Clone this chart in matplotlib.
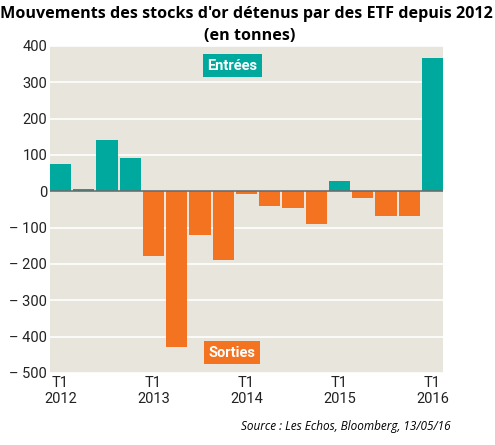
import numpy as np
import matplotlib.pyplot as plt

# Données (tonnes), trimestres T1 2012 -> T1 2016
trimestres = ["T1 2012", "T2 2012", "T3 2012", "T4 2012",
              "T1 2013", "T2 2013", "T3 2013", "T4 2013",
              "T1 2014", "T2 2014", "T3 2014", "T4 2014",
              "T1 2015", "T2 2015", "T3 2015", "T4 2015",
              "T1 2016"]
mouvements = [76, 5, 141, 91,
              -179, -430, -120, -190,
              -9, -40, -45, -90,
              27, -19, -69, -69,
              366]
tick_pos = [0, 4, 8, 12, 16]
tick_labels = ["T1\n2012", "T1\n2013", "T1\n2014", "T1\n2015", "T1\n2016"]
y_ticks = [400, 300, 200, 100, 0, -100, -200, -300, -400, -500]

vert = "#00A99D"
orange = "#F47321"
fond = "#E7E5DC"

fig = plt.figure(figsize=(4.95, 4.45), dpi=100)
ax = fig.add_axes([0.101, 0.162, 0.794, 0.735])
ax.set_facecolor(fond)

x = np.arange(len(mouvements))
couleurs = [vert if v >= 0 else orange for v in mouvements]
ax.bar(x, mouvements, width=0.91, color=couleurs, zorder=3)
ax.axhline(0, color="#6b6b6b", lw=1.2, zorder=4)

ax.set_xlim(-0.455, 16.455)
ax.set_ylim(-500, 400)
ax.set_yticks(y_ticks)
ax.set_yticklabels([f"\u2013 {-v}" if v < 0 else str(v) for v in y_ticks],
                   fontsize=10.5, family="Roboto", color="#222222")
ax.set_xticks(tick_pos)
ax.set_xticklabels(tick_labels, fontsize=10.5, family="Roboto", color="#222222",
                   linespacing=1.2)
ax.tick_params(length=0, pad=2)
ax.yaxis.grid(True, color="white", lw=1.2, zorder=1)
for s in ax.spines.values():
    s.set_visible(False)

# étiquettes
ax.text(7.38, 345, "Entrées", color="white", fontsize=10.5, fontweight="bold",
        family="Roboto", ha="center", va="center", zorder=5,
        bbox=dict(boxstyle="square,pad=0.3", fc=vert, ec="none"))
ax.text(7.38, -444, "Sorties", color="white", fontsize=10.5, fontweight="bold",
        family="Roboto", ha="center", va="center", zorder=5,
        bbox=dict(boxstyle="square,pad=0.3", fc=orange, ec="none"))

fig.text(0.497, 0.987, "Mouvements des stocks d'or détenus par des ETF depuis 2012",
         ha="center", va="top", fontsize=11.6, fontweight="bold", family="Open Sans")
fig.text(0.505, 0.937, "(en tonnes)", ha="center", va="top", fontsize=11.6,
         fontweight="bold", family="Open Sans")
fig.text(0.91, 0.042, "Source : Les Echos, Bloomberg, 13/05/16", ha="right",
         va="center", fontsize=8.5, style="italic", family="Open Sans")

fig.savefig("out.png", dpi=100)
